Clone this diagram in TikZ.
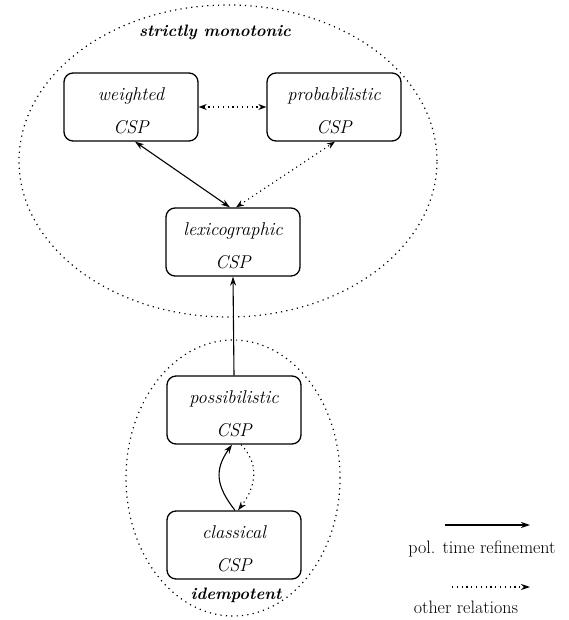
\documentclass[tikz,border=0pt]{standalone}
\usetikzlibrary{arrows.meta,shapes.geometric}
\begin{document}
\begin{tikzpicture}[x=1pt,y=-1pt,
  box/.style={draw,line width=1.3pt,rounded corners=9pt,minimum width=134pt,minimum height=68pt,inner sep=0pt},
  boxtext/.style={align=center,inner sep=0pt,font=\fontsize{18.5}{33}\selectfont\itshape},
  region/.style={draw,line width=1.2pt,dash pattern=on 1.2pt off 4.2pt,ellipse},
  solidarr/.style={line width=1.1pt},
  dotarr/.style={line width=1.1pt,dash pattern=on 1.2pt off 3.6pt},
  lbl/.style={font=\fontsize{16.5}{20}\selectfont\bfseries\itshape},
  leg/.style={font=\fontsize{18}{22}\selectfont}]
\useasboundingbox (0,0) rectangle (568,620);
% regions
\node[region,minimum width=418pt,minimum height=312pt] (sm) at (228,161) {};
\node[region,minimum width=214pt,minimum height=276pt] (id) at (233,478) {};
\node[lbl] (smt) at (215,32) {strictly monotonic};
\node[lbl] (idt) at (236,595) {idempotent};
% boxes
\node[box] (wei) at (131,107) {};
\node[box] (pro) at (334,107) {};
\node[box] (lex) at (233,242) {};
\node[box] (pos) at (234,410) {};
\node[box] (cla) at (234,545) {};
\node[boxtext] (weit) at ([yshift=-4pt]wei.center) {weighted\\CSP};
\node[boxtext] (prot) at ([yshift=-4pt]pro.center) {probabilistic\\CSP};
\node[boxtext] (lext) at ([yshift=-4pt]lex.center) {lexicographic\\CSP};
\node[boxtext] (post) at ([yshift=-4pt]pos.center) {possibilistic\\CSP};
\node[boxtext] (clat) at ([yshift=-4pt]cla.center) {classical\\CSP};
% connectors
\draw[dotarr,{Stealth[length=8pt,width=6pt,open]}-{Stealth[length=8pt,width=6pt,open]}] (wei.east) -- (pro.west);
\draw[solidarr,{Stealth[length=9pt,width=6pt,open]}-{Stealth[length=9pt,width=6pt,open]}] ([xshift=4pt]wei.south) -- ([xshift=-3pt]lex.north);
\draw[dotarr,{Stealth[length=8pt,width=6pt,open]}-{Stealth[length=8pt,width=6pt,open]}] ([xshift=3pt]lex.north) -- ([xshift=1pt]pro.south);
\draw[solidarr,-{Stealth[length=9pt,width=6pt,open]}] (pos.north) -- (lex.south);
\draw[solidarr,-{Stealth[length=9pt,width=6pt,open]}] ([xshift=1pt]cla.north) .. controls (216,486) and (214,470) .. ([xshift=-2pt]pos.south);
\draw[dotarr,-{Stealth[length=9pt,width=6pt,open]}] ([xshift=7pt]pos.south) .. controls (258,462) and (258,484) .. ([xshift=4pt]cla.north);
% legend
\coordinate (l1a) at (445,525);
\coordinate (l1b) at (530,525);
\coordinate (l2a) at (452,587);
\coordinate (l2b) at (530,587);
\draw[solidarr,-{Stealth[length=9pt,width=6pt]}] (l1a) -- (l1b);
\draw[dotarr,-{Stealth[length=9pt,width=6pt]}] (l2a) -- (l2b);
\node[leg] (t1) at (482,549) {pol. time refinement};
\node[leg] (t2) at (466,607) {other relations};
\end{tikzpicture}
\end{document}
